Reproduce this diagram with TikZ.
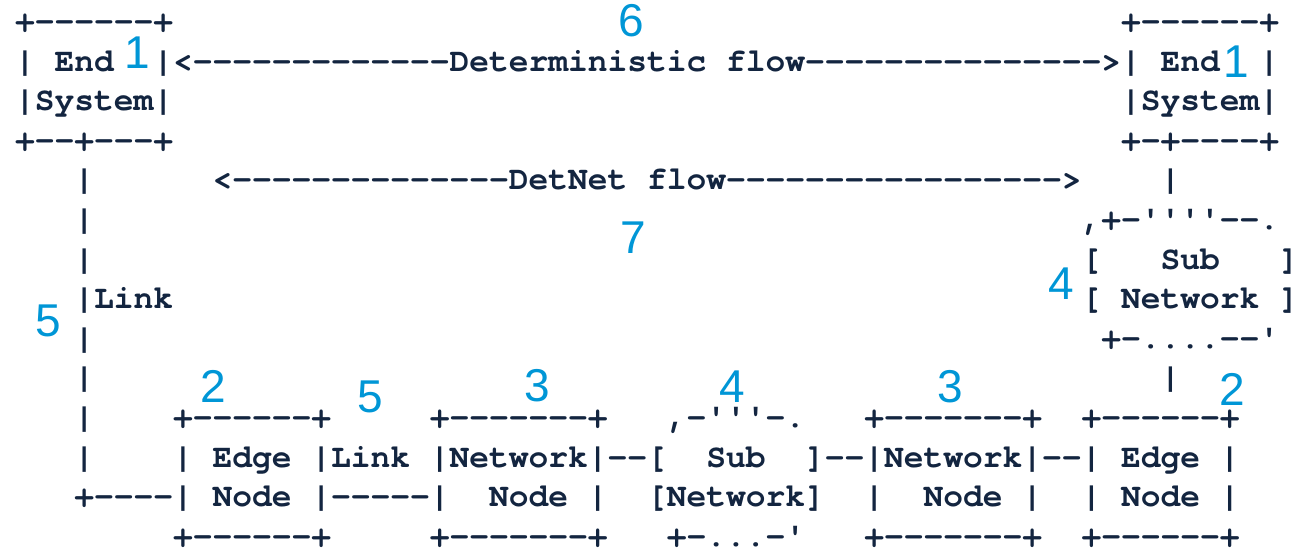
\documentclass[tikz,border=0pt]{standalone}
\usepackage{fontspec}
\setmainfont{Liberation Sans}
\setmonofont{texgyrecursor}[Extension=.otf,UprightFont=*-regular,BoldFont=*-bold,Ligatures=NoCommon]
\definecolor{ink}{RGB}{19,37,64}
\definecolor{callout}{RGB}{0,150,214}
\begin{document}
\begin{tikzpicture}[x=0.5pt,y=-0.5pt,declare function={cx(\i)=15.1+19.75*\i; ry(\j)=31.5+39.6*\j;},outer sep=0pt,inner sep=0pt]
	\tikzstyle{ascii_style} = [font=\ttfamily\bfseries\fontsize{16.46pt}{16.46pt}\selectfont, text=ink, anchor=base west]
	\tikzstyle{num_style} = [font=\fontsize{23pt}{23pt}\selectfont, text=callout]
	\useasboundingbox (0,0) rectangle (1303,548);
	%%% end systems
	\node[ascii_style] (esl-0) at ({cx(0)},{ry(0)}) {+------+};
	\node[ascii_style] (esl-1) at ({cx(0)},{ry(1)}) {|~End~~|};
	\node[ascii_style] (esl-2) at ({cx(0)},{ry(2)}) {|System|};
	\node[ascii_style] (esl-3) at ({cx(0)},{ry(3)}) {+--+---+};
	\node[ascii_style] (esr-0) at ({cx(56)},{ry(0)}) {+------+};
	\node[ascii_style] (esr-1) at ({cx(56)},{ry(1)}) {|~End~~|};
	\node[ascii_style] (esr-2) at ({cx(56)},{ry(2)}) {|System|};
	\node[ascii_style] (esr-3) at ({cx(56)},{ry(3)}) {+-+----+};
	%%% flows
	\node[ascii_style] (detflow) at ({cx(8)},{ry(1)}) {<-------------Deterministic~flow--------------->};
	\node[ascii_style] (dnflow) at ({cx(10)},{ry(4)}) {<--------------DetNet~flow----------------->};
	%%% left link
	\foreach \j in {4,5,6,8,9,10,11}{
		\node[ascii_style] (link-\j) at ({cx(3)},{ry(\j)}) {|};
	}
	\node[ascii_style] (link-7) at ({cx(3)},{ry(7)}) {|Link};
	%%% right sub network
	\node[ascii_style] (rlink-4) at ({cx(58)},{ry(4)}) {|};
	\node[ascii_style] (subr-5) at ({cx(54)},{ry(5)}) {,+-''''--.};
	\node[ascii_style] (subr-6) at ({cx(54)},{ry(6)}) {[~~~Sub~~~]};
	\node[ascii_style] (subr-7) at ({cx(54)},{ry(7)}) {[~Network~]};
	\node[ascii_style] (subr-8) at ({cx(55)},{ry(8)}) {+-....--'};
	\node[ascii_style] (rlink-9) at ({cx(58)},{ry(9)}) {|};
	%%% bottom chain
	\foreach[count=\i] \c/\s in {8/+------+, 21/+-------+, 43/+-------+, 54/+------+}{
		\node[ascii_style] (top-\i) at ({cx(\c)},{ry(10)}) {\s};
		\node[ascii_style] (bot-\i) at ({cx(\c)},{ry(13)}) {\s};
	}
	\node[ascii_style] (subb-10) at ({cx(33)},{ry(10)}) {,-'''-.};
	\node[ascii_style] (subb-13) at ({cx(33)},{ry(13)}) {+-...-'};
	\node[ascii_style] (chain-11) at ({cx(8)},{ry(11)}) {|~Edge~|Link~|Network|--[~~Sub~~]--|Network|--|~Edge~|};
	\node[ascii_style] (chain-12) at ({cx(3)},{ry(12)}) {+----|~Node~|-----|~~Node~|~~[Network]~~|~~Node~|~~|~Node~|};
	%%% callouts
	\foreach[count=\i] \lbl/\x/\y in {6/631/21, 1/137/53, 1/1236/62, 7/633/238, 5/48/321, 4/1061/284, 2/213/386, 5/370/397, 3/537/386, 4/732/387, 3/950/387, 2/1232/389}{
		\node[num_style] (num-\i) at (\x,\y) {\lbl};
	}
\end{tikzpicture}
\end{document}
